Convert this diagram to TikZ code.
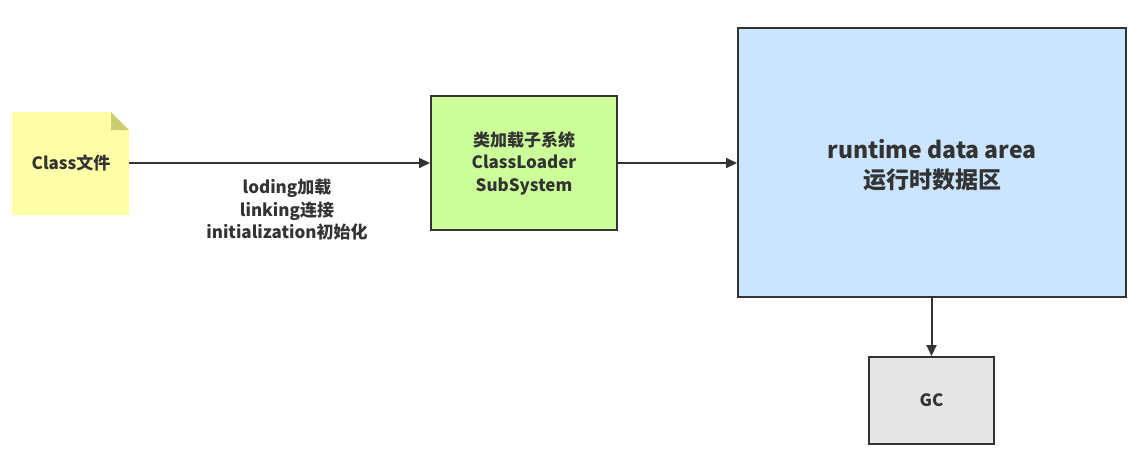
\documentclass[tikz,border=0pt]{standalone}
\usepackage{fontspec}
\setmainfont{Noto Sans CJK SC}
\usetikzlibrary{arrows.meta}
\definecolor{txt}{HTML}{333333}
\definecolor{notefill}{HTML}{FFFFA8}
\definecolor{notefold}{HTML}{CCCC70}
\definecolor{greenfill}{HTML}{CCFF99}
\definecolor{bluefill}{HTML}{CCE5FF}
\definecolor{grayfill}{HTML}{E6E6E6}
\tikzset{
  box/.style={draw=txt, line width=2pt, text=txt, font=\bfseries\fontsize{17}{22.5}\selectfont, align=center, inner sep=0pt},
  conn/.style={draw=txt, line width=2pt, -{Triangle[length=11pt,width=10pt]}},
  lbl/.style={text=txt, font=\bfseries\fontsize{17}{22.5}\selectfont, align=center}
}
\begin{document}
\begin{tikzpicture}[x=1pt,y=-1pt]
\useasboundingbox (0,0) rectangle (1148,458);
% note
\fill[notefill] (12,112) -- (111,112) -- (129,130) -- (129,215) -- (12,215) -- cycle;
\fill[notefold] (111,112) -- (129,130) -- (111,130) -- cycle;
\node[text=txt, font=\bfseries\fontsize{17}{22}\selectfont] (note) at (71,163) {Class文件};
\coordinate (noteR) at (129,163);
% boxes
\node[box, fill=greenfill, minimum width=186pt, minimum height=134pt] (cls) at (524,163) {类加载子系统\\ClassLoader\\SubSystem};
\node[box, fill=bluefill, minimum width=388pt, minimum height=269pt] (rda) at (932,162.5) {};
\node[text=txt, font=\bfseries\fontsize{23}{30}\selectfont, align=center] (rdat) at (932,165) {runtime data area\\运行时数据区};
\node[box, fill=grayfill, minimum width=125pt, minimum height=87pt] (gc) at (931.5,400.5) {GC};
% connectors
\draw[conn] (noteR) -- (cls.west |- noteR);
\draw[conn] (cls.east |- noteR) -- (rda.west |- noteR);
\draw[conn] (rda.south -| gc.north) -- (gc.north);
% label
\node[lbl] (lab) at (287,210) {loding加载\\linking连接\\initialization初始化};
\end{tikzpicture}
\end{document}
